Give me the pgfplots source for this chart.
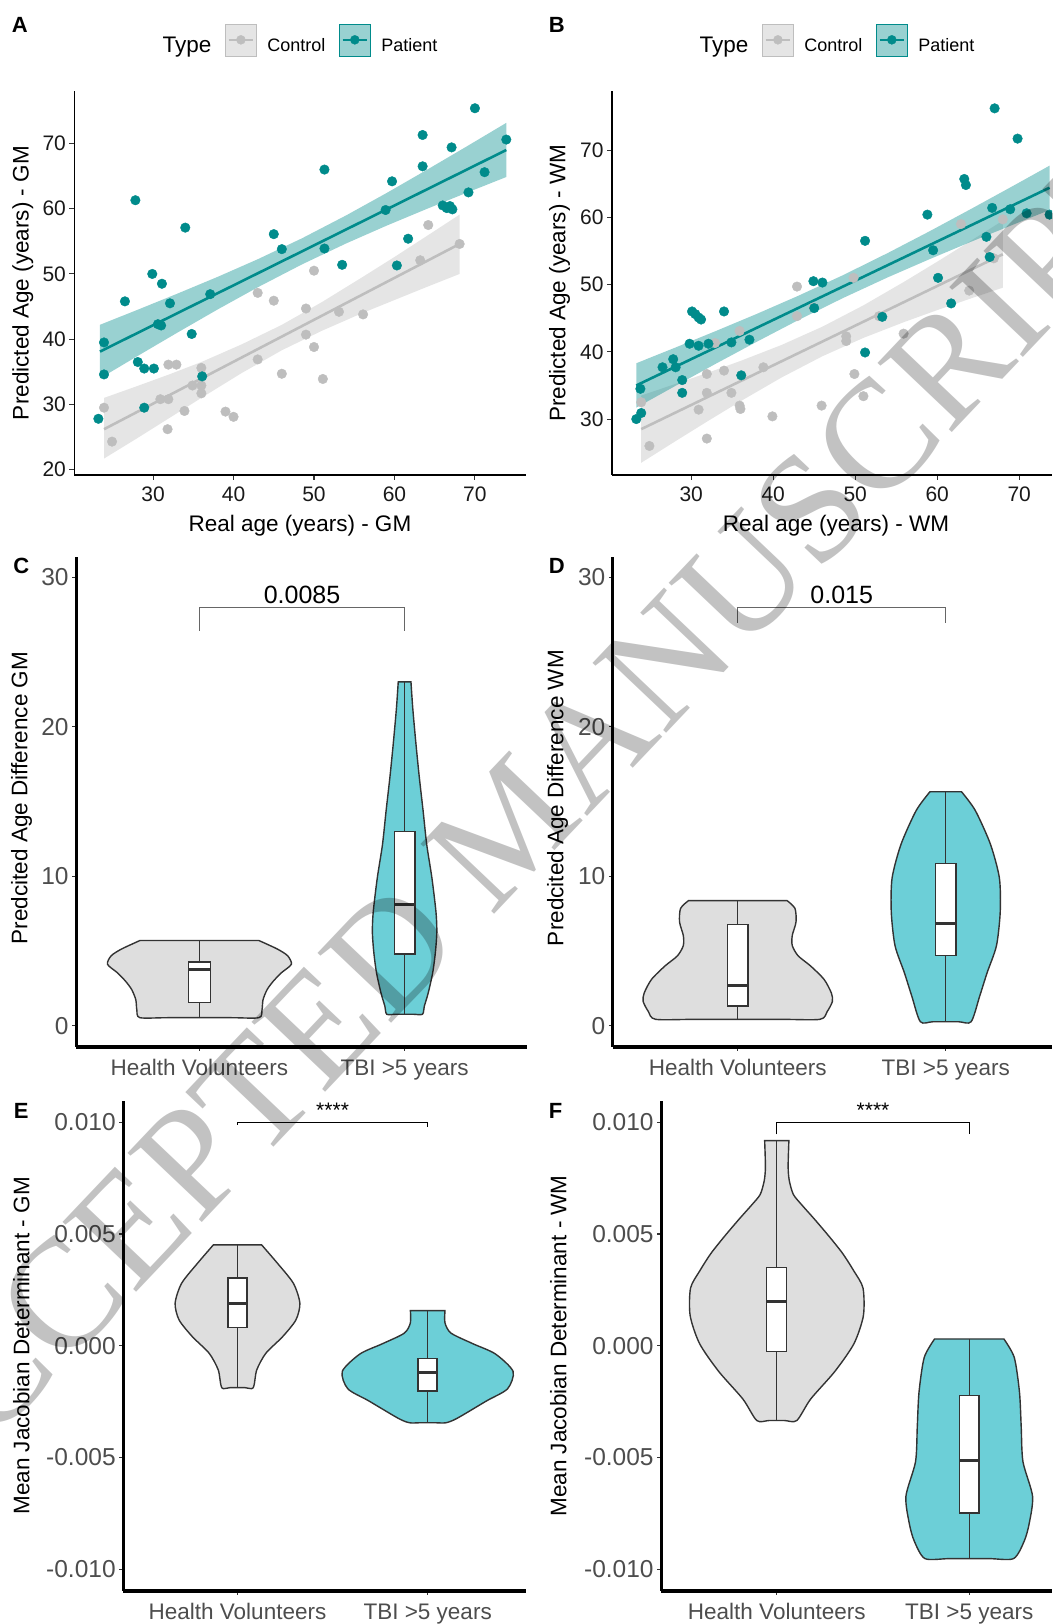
\documentclass[border=0pt]{standalone}
\usepackage{fontspec}
\setmainfont{Liberation Sans}
\newfontfamily\wmfont{Liberation Serif}
\usepackage{pgfplots}
\pgfplotsset{compat=1.18}

\definecolor{tealc}{RGB}{0,139,139}
\definecolor{ctrlc}{RGB}{190,190,190}
\definecolor{vgray}{RGB}{222,222,222}
\definecolor{vteal}{RGB}{108,207,215}
\definecolor{outl}{RGB}{51,51,51}
\definecolor{tickc}{RGB}{51,51,51}
\definecolor{labc}{RGB}{77,77,77}

\newcommand\fs[1]{\fontsize{#1}{#1}\selectfont}

\pgfplotsset{
  gg/.style={scale only axis, axis lines*=left, tick align=outside, clip=false,
    /pgf/number format/assume math mode=true,
    major tick length=5pt, tick style={tickc, line width=1.1pt},
    label style={font=\fs{22.5}}},
  ggscatter/.style={gg, axis line style={line width=1.6pt},
    tick label style={font=\fs{21}, text=black!90},
    xticklabel style={yshift=-3pt},
    xtick={30,40,50,60,70},
    legend style={draw=none, fill=none, legend columns=-1, font=\fs{18},
      /tikz/every odd column/.append style={column sep=9pt},
      /tikz/every even column/.append style={column sep=12pt},
      /tikz/column 1/.style={column sep=0pt},
      /tikz/column 2/.style={column sep=2pt}}},
  ggviolin/.style={gg, axis line style={line width=3.2pt}, major tick length=4pt,
    xmin=0.399, xtick={1,2}, xticklabels={Health Volunteers, TBI >5 years},
    x tick label style={font=\fs{22.5}, text=labc, yshift=-5pt},
    y tick label style={font=\fs{24.5}, text=labc}},
  ctrlkey/.style={legend image code/.code={
      \fill[ctrlc, fill opacity=0.4] (0pt,-10pt) rectangle (30.5pt,22pt);
      \draw[ctrlc, line width=2.5pt] (3pt,6pt) -- (27.5pt,6pt);
      \fill[ctrlc] (15.25pt,6pt) circle (4.5pt);}},
  patkey/.style={legend image code/.code={
      \fill[tealc, fill opacity=0.4] (0pt,-10pt) rectangle (30.5pt,22pt);
      \draw[tealc, line width=2.5pt] (3pt,6pt) -- (27.5pt,6pt);
      \fill[tealc] (15.25pt,6pt) circle (4.5pt);}},
  pts/.style={only marks, mark=*, mark size=4.8pt, forget plot, mark options={draw=none}},
  rib/.style={draw=none, fill opacity=0.4, forget plot},
  fit/.style={line width=2.6pt, forget plot},
  vio/.style={draw=outl, line width=1.4pt, smooth, tension=0.45},
  vline/.style={outl, line width=1.3pt},
  vbox/.style={draw=outl, line width=1.4pt, fill=white},
  vmed/.style={outl, line width=3pt},
}

\begin{document}
\begin{tikzpicture}[x=1pt,y=1pt]
\useasboundingbox (0,0) rectangle (1052,1624);
\clip (0,0) rectangle (1052,1624);

% ---------------- A ----------------
\begin{axis}[ggscatter, at={(74.4pt,1149.1pt)}, anchor=south west,
  width=451.2pt, height=383.6pt,
  xmin=20.22, xmax=76.3, ymin=19.2, ymax=78.0,
  ytick={20,30,40,50,60,70},
  xlabel={Real age (years) - GM}, ylabel={Predicted Age (years) - GM},
  xlabel style={at={(axis description cs:0.5,-0.1463)}, anchor=base},
  ylabel style={at={(axis description cs:-0.1144,0.5)}, anchor=center},
  legend style={at={(0.490,1)}, anchor=center, yshift=51.3pt}]
\addlegendimage{empty legend}\addlegendentry{\fs{22.5}Type}
\addlegendimage{ctrlkey}\addlegendentry{Control}
\addlegendimage{patkey}\addlegendentry{Patient}
\addplot[pts, color=ctrlc] coordinates {
(23.9,29.5) (24.9,24.3) (31.9,36.1) (32.9,36.1) (30.9,30.8) (31.9,30.8) (31.8,26.2)
(33.9,29.0) (34.9,32.9) (36.0,35.6) (36.0,32.9) (36.0,31.7) (39.0,28.9) (40.0,28.1)
(43.0,47.1) (43.0,36.9) (45.0,45.9) (46.0,34.7) (49.0,44.7) (49.0,40.7) (50.0,50.5)
(50.0,38.8) (51.1,33.9) (53.1,44.2) (56.1,43.8) (63.2,52.1) (64.2,57.5) (68.1,54.6)};
\addplot[pts, color=tealc] coordinates {
(23.2,27.8) (23.9,39.5) (23.9,34.6) (26.5,45.8) (27.8,61.3) (28.1,36.5) (28.9,35.5)
(28.9,29.5) (30.1,35.5) (29.9,50.0) (31.1,48.5) (30.6,42.3) (31.0,42.1) (32.1,45.5)
(34.0,57.1) (34.8,40.8) (36.1,34.3) (37.1,46.9) (45.0,56.1) (46.0,53.8) (51.3,66.0)
(51.3,53.9) (53.5,51.4) (58.9,59.8) (59.7,64.2) (60.3,51.3) (61.7,55.4) (63.5,71.3)
(63.5,66.5) (66.0,60.5) (66.5,60.1) (66.9,60.4) (67.2,59.9) (67.1,69.4) (69.2,62.5)
(70.0,75.4) (71.2,65.6) (73.9,70.6)};
\addplot[rib, fill=ctrlc] coordinates {
(23.9,31.0) (28,32.8) (32,34.6) (36,36.5) (41,39.2) (46,42.2) (51,45.7) (56,49.5)
(60,52.6) (64,55.8) (68.1,59.1)
(68.1,50.0) (64,48.0) (60,46.0) (56,44.0) (51,41.3) (46,38.3) (41,34.8) (36,31.0)
(32,27.9) (28,24.8) (23.9,21.7)} -- cycle;
\addplot[fit, color=ctrlc] coordinates {(23.9,26.2) (68.1,54.6)};
\addplot[rib, fill=tealc] coordinates {
(23.4,42.21) (28,44.47) (33,46.97) (38,49.54) (43,52.25) (48.5,55.46) (54,58.98)
(59,62.39) (64,65.94) (69,69.56) (73.9,73.16)
(73.9,64.86) (69,62.46) (64,59.96) (59,57.39) (54,54.68) (48.5,51.46) (43,47.95)
(38,44.54) (33,40.99) (28,37.37) (23.4,33.99)} -- cycle;
\addplot[fit, color=tealc] coordinates {(23.4,38.1) (73.9,69.0)};
\end{axis}

% ---------------- B ----------------
\begin{axis}[ggscatter, at={(612.1pt,1149.1pt)}, anchor=south west,
  width=439.9pt, height=383.6pt,
  xmin=20.35, xmax=74.0, ymin=21.7, ymax=78.74,
  ytick={30,40,50,60,70},
  xlabel={Real age (years) - WM}, ylabel={Predicted Age (years) - WM},
  xlabel style={at={(axis description cs:0.509,-0.1463)}, anchor=base},
  ylabel style={at={(axis description cs:-0.1193,0.5)}, anchor=center},
  legend style={at={(0.501,1)}, anchor=center, yshift=51.3pt}]
\addlegendimage{empty legend}\addlegendentry{\fs{22.5}Type}
\addlegendimage{ctrlkey}\addlegendentry{Control}
\addlegendimage{patkey}\addlegendentry{Patient}
\addplot[pts, color=ctrlc] coordinates {
(23.9,32.5) (24.9,26.0) (30.9,31.4) (31.9,36.7) (31.9,33.9) (31.9,27.1) (32.9,41.3)
(34.0,37.2) (34.9,33.9) (35.9,43.1) (35.9,32.0) (36.0,31.5) (38.8,37.7) (39.9,30.4)
(42.9,49.7) (42.9,45.3) (44.9,46.6) (45.9,32.0) (48.9,42.3) (48.9,41.6) (49.8,51.0)
(49.9,36.7) (51.0,33.4) (52.9,45.3) (55.9,42.7) (62.9,59.0) (63.9,49.1) (66.9,53.9)
(68.0,59.7)};
\addplot[pts, color=tealc] coordinates {
(23.3,30.0) (23.9,30.9) (23.8,34.5) (26.5,37.7) (27.8,38.9) (28.1,37.7) (28.9,35.8)
(28.9,33.9) (29.8,41.2) (30.1,46.0) (30.5,45.6) (30.9,45.1) (31.2,44.8) (30.9,40.9)
(32.1,41.2) (34.0,46.0) (34.9,41.4) (36.1,36.5) (37.1,41.8) (44.9,50.5) (46.0,50.3)
(45.0,46.5) (51.2,56.5) (51.2,39.9) (53.3,45.2) (58.8,60.4) (59.5,55.1) (60.1,51.0)
(61.7,47.2) (63.3,65.7) (63.5,64.8) (66.0,57.1) (66.4,54.1) (66.7,61.4) (67.0,76.2)
(68.9,61.2) (69.8,71.7) (70.9,60.6) (73.7,60.4)};
\addplot[rib, fill=ctrlc] coordinates {
(23.9,33.50) (28,35.19) (32,36.88) (36,38.64) (41,41.01) (46,43.74) (51,46.91)
(56,50.44) (60,53.40) (64,56.43) (68.0,59.50)
(68.0,49.54) (64,47.89) (60,46.20) (56,44.44) (51,42.07) (46,39.34) (41,36.17)
(36,32.64) (32,29.68) (28,26.65) (23.9,23.50)} -- cycle;
\addplot[fit, color=ctrlc] coordinates {(23.9,28.5) (68.0,54.5)};
\addplot[rib, fill=tealc] coordinates {
(23.3,38.30) (28,40.60) (33,43.09) (38,45.64) (43,48.30) (48.5,51.39) (54,54.71)
(59,57.88) (64,61.16) (69,64.50) (73.7,67.68)
(73.7,61.08) (69,58.78) (64,56.30) (59,53.74) (54,51.09) (48.5,47.99) (43,44.68)
(38,41.50) (33,38.23) (28,34.88) (23.3,31.70)} -- cycle;
\addplot[fit, color=tealc] coordinates {(23.3,35.0) (73.7,64.4)};
\end{axis}

% ---------------- C ----------------
\begin{axis}[ggviolin, at={(76.1pt,577pt)}, anchor=south west,
  width=451.2pt, height=490.1pt, xmax=2.598,
  ymin=-1.42, ymax=31.36, ytick={0,10,20,30},
  ylabel={Predcited Age Difference GM},
  ylabel style={at={(axis description cs:-0.121,0.508)}, anchor=center}]
\addplot[vio, fill=vgray] coordinates {
(1.29,5.70) (1.38,5.13) (1.43,4.68) (1.448,4.11) (1.40,3.55) (1.36,2.98) (1.33,2.42)
(1.31,1.74) (1.305,1.06) (1.29,0.54) (1.15,0.54) (0.85,0.54)
(0.71,0.54) (0.695,1.06) (0.69,1.74) (0.67,2.42) (0.64,2.98) (0.60,3.55) (0.552,4.11)
(0.57,4.68) (0.62,5.13) (0.71,5.70)} -- cycle;
\addplot[vline] coordinates {(1,0.54) (1,5.70)};
\addplot[vbox] coordinates {(0.947,1.56) (1.053,1.56) (1.053,4.27) (0.947,4.27)} -- cycle;
\addplot[vmed] coordinates {(0.947,3.73) (1.053,3.73)};
\addplot[vio, fill=vteal] coordinates {
(2.031,23.0) (2.04,21.2) (2.055,18.9) (2.071,16.7) (2.09,14.4) (2.108,12.1) (2.133,9.9)
(2.153,7.6) (2.157,6.26) (2.150,4.9) (2.137,3.55) (2.115,2.19) (2.096,1.3) (2.087,0.77)
(2.04,0.77) (1.96,0.77)
(1.913,0.77) (1.904,1.3) (1.885,2.19) (1.863,3.55) (1.850,4.9) (1.843,6.26) (1.847,7.6)
(1.867,9.9) (1.892,12.1) (1.91,14.4) (1.929,16.7) (1.945,18.9) (1.96,21.2) (1.969,23.0)} -- cycle;
\addplot[vline] coordinates {(2,0.77) (2,23.0)};
\addplot[vbox] coordinates {(1.95,4.8) (2.05,4.8) (2.05,13.0) (1.95,13.0)} -- cycle;
\addplot[vmed] coordinates {(1.95,8.14) (2.05,8.14)};
\addplot[black!60, line width=1.3pt] coordinates {(1,26.43) (1,27.97) (2,27.97) (2,26.43)};
\node[anchor=base, font=\fs{25}, inner sep=0pt] at (axis cs:1.5,28.25) {0.0085};
\end{axis}

% ---------------- D ----------------
\begin{axis}[ggviolin, at={(612.8pt,577pt)}, anchor=south west,
  width=439.2pt, height=490.1pt, xmax=2.511,
  ymin=-1.42, ymax=31.36, ytick={0,10,20,30},
  ylabel={Predcited Age Difference WM},
  ylabel style={at={(axis description cs:-0.1256,0.508)}, anchor=center}]
\addplot[vio, fill=vgray] coordinates {
(1.237,8.37) (1.275,7.85) (1.28,6.94) (1.262,6.04) (1.262,5.36) (1.29,4.68) (1.35,4.00)
(1.415,3.10) (1.45,2.19) (1.455,1.63) (1.43,0.95) (1.395,0.43) (1.2,0.43) (0.8,0.43)
(0.605,0.43) (0.57,0.95) (0.545,1.63) (0.55,2.19) (0.585,3.10) (0.65,4.00) (0.71,4.68)
(0.738,5.36) (0.738,6.04) (0.72,6.94) (0.725,7.85) (0.763,8.37)} -- cycle;
\addplot[vline] coordinates {(1,0.43) (1,8.37)};
\addplot[vbox] coordinates {(0.95,1.33) (1.05,1.33) (1.05,6.76) (0.95,6.76)} -- cycle;
\addplot[vmed] coordinates {(0.95,2.69) (1.05,2.69)};
\addplot[vio, fill=vteal] coordinates {
(2.076,15.65) (2.142,14.40) (2.215,12.14) (2.258,9.88) (2.262,7.62) (2.244,5.36)
(2.199,3.55) (2.163,1.97) (2.122,0.27) (2.06,0.27) (1.94,0.27)
(1.878,0.27) (1.837,1.97) (1.801,3.55) (1.756,5.36) (1.738,7.62) (1.742,9.88)
(1.785,12.14) (1.858,14.40) (1.924,15.65)} -- cycle;
\addplot[vline] coordinates {(2,0.27) (2,15.65)};
\addplot[vbox] coordinates {(1.95,4.68) (2.05,4.68) (2.05,10.85) (1.95,10.85)} -- cycle;
\addplot[vmed] coordinates {(1.95,6.83) (2.05,6.83)};
\addplot[black!60, line width=1.3pt] coordinates {(1,26.95) (1,27.97) (2,27.97) (2,26.95)};
\node[anchor=base, font=\fs{25}, inner sep=0pt] at (axis cs:1.5,28.25) {0.015};
\end{axis}

% ---------------- E ----------------
\begin{axis}[ggviolin, at={(123.2pt,33pt)}, anchor=south west,
  width=402.8pt, height=490.2pt, xmax=2.517,
  ymin=-0.01098, ymax=0.01096, scaled y ticks=false,
  ytick={-0.01,-0.005,0,0.005,0.01},
  yticklabels={-0.010,-0.005,0.000,0.005,0.010},
  ylabel={Mean Jacobian Determinant - GM},
  ylabel style={at={(axis description cs:-0.253,0.5)}, anchor=center}]
\addplot[vio, fill=vgray] coordinates {
(1.127,0.00451) (1.210,0.00369) (1.294,0.00279) (1.328,0.00190) (1.307,0.00115)
(1.237,0.00040) (1.149,-0.00034) (1.101,-0.00109) (1.083,-0.00188) (1.04,-0.00188)
(0.96,-0.00188) (0.917,-0.00188) (0.899,-0.00109) (0.851,-0.00034) (0.763,0.00040)
(0.693,0.00115) (0.672,0.00190) (0.706,0.00279) (0.790,0.00369) (0.873,0.00451)} -- cycle;
\addplot[vline] coordinates {(1,-0.00188) (1,0.00451)};
\addplot[vbox] coordinates {(0.95,0.00081) (1.05,0.00081) (1.05,0.00302) (0.95,0.00302)} -- cycle;
\addplot[vmed] coordinates {(0.95,0.00190) (1.05,0.00190)};
\addplot[vio, fill=vteal] coordinates {
(2.091,0.00157) (2.091,0.00102) (2.123,0.00056) (2.237,0.00009) (2.356,-0.00037)
(2.449,-0.00115) (2.42,-0.00193) (2.31,-0.00247) (2.155,-0.00325) (2.096,-0.00345)
(2.04,-0.00345) (1.96,-0.00345)
(1.904,-0.00345) (1.845,-0.00325) (1.69,-0.00247) (1.58,-0.00193) (1.551,-0.00115)
(1.644,-0.00037) (1.763,0.00009) (1.877,0.00056) (1.909,0.00102) (1.909,0.00157)} -- cycle;
\addplot[vline] coordinates {(2,-0.00345) (2,0.00157)};
\addplot[vbox] coordinates {(1.95,-0.00203) (2.05,-0.00203) (2.05,-0.00058) (1.95,-0.00058)} -- cycle;
\addplot[vmed] coordinates {(1.95,-0.00120) (2.05,-0.00120)};
\addplot[black, line width=1pt] coordinates {(1,0.00988) (1,0.0100) (2,0.0100) (2,0.00977)};
\node[anchor=base, font=\fs{21}, inner sep=0pt] at (axis cs:1.5,0.0102) {****};
\end{axis}

% ---------------- F ----------------
\begin{axis}[ggviolin, at={(661.1pt,33pt)}, anchor=south west,
  width=390.9pt, height=490.2pt, xmax=2.43,
  ymin=-0.01098, ymax=0.01096, scaled y ticks=false,
  ytick={-0.01,-0.005,0,0.005,0.01},
  yticklabels={-0.010,-0.005,0.000,0.005,0.010},
  ylabel={Mean Jacobian Determinant - WM},
  ylabel style={at={(axis description cs:-0.263,0.5)}, anchor=center}]
\addplot[vio, fill=vgray] coordinates {
(1.063,0.00918) (1.059,0.00801) (1.065,0.00739) (1.086,0.00677) (1.13,0.0063)
(1.194,0.00568) (1.27,0.00491) (1.342,0.00413) (1.40,0.00335) (1.448,0.00258)
(1.450,0.00134) (1.401,0.00009) (1.302,-0.00115) (1.176,-0.00239) (1.104,-0.00335)
(1.04,-0.00335) (0.96,-0.00335)
(0.896,-0.00335) (0.824,-0.00239) (0.698,-0.00115) (0.599,0.00009) (0.550,0.00134)
(0.552,0.00258) (0.60,0.00335) (0.658,0.00413) (0.73,0.00491) (0.806,0.00568)
(0.87,0.0063) (0.914,0.00677) (0.935,0.00739) (0.941,0.00801) (0.937,0.00918)} -- cycle;
\addplot[vline] coordinates {(1,-0.00335) (1,0.00918)};
\addplot[vbox] coordinates {(0.948,-0.00025) (1.052,-0.00025) (1.052,0.00351) (0.948,0.00351)} -- cycle;
\addplot[vmed] coordinates {(0.948,0.00199) (1.052,0.00199)};
\addplot[vio, fill=vteal] coordinates {
(2.18,0.00030) (2.234,-0.00053) (2.261,-0.00208) (2.27,-0.00363) (2.279,-0.00519)
(2.329,-0.00674) (2.311,-0.00798) (2.285,-0.00876) (2.23,-0.00953) (2.1,-0.00953)
(1.9,-0.00953)
(1.77,-0.00953) (1.715,-0.00876) (1.689,-0.00798) (1.671,-0.00674) (1.721,-0.00519)
(1.73,-0.00363) (1.739,-0.00208) (1.766,-0.00053) (1.82,0.00030)} -- cycle;
\addplot[vline] coordinates {(2,-0.00953) (2,0.00030)};
\addplot[vbox] coordinates {(1.95,-0.00749) (2.05,-0.00749) (2.05,-0.00224) (1.95,-0.00224)} -- cycle;
\addplot[vmed] coordinates {(1.95,-0.00516) (2.05,-0.00516)};
\addplot[black, line width=1pt] coordinates {(1,0.00946) (1,0.0100) (2,0.0100) (2,0.00946)};
\node[anchor=base, font=\fs{21}, inner sep=0pt] at (axis cs:1.5,0.0102) {****};
\end{axis}

% panel letters
\begin{scope}[every node/.style={anchor=base west, inner sep=0pt, font=\bfseries\fs{22}}]
\node at (11.8,1591.9) {A};
\node at (548.6,1591.9) {B};
\node at (13.2,1050.2) {C};
\node at (548.6,1050.2) {D};
\node at (13.6,505.8) {E};
\node at (548.6,505.8) {F};
\end{scope}

% watermark
\node[rotate=46.5, text=black, text opacity=0.24, font=\wmfont\fs{155}, inner sep=0pt]
  at (510,799) {ACCEPTED MANUSCRIPT};
\end{tikzpicture}
\end{document}
